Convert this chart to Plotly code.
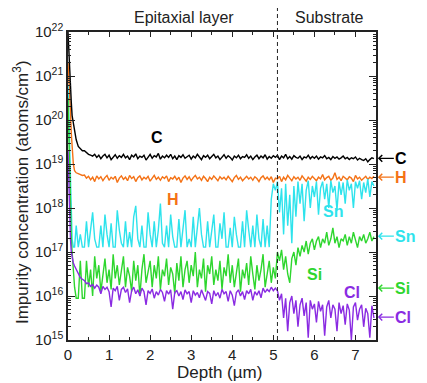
import numpy as np
import plotly.graph_objects as go

# ---- data (log10 of concentration, atoms/cm^3) ----
head_depth = [0, 0.02, 0.04, 0.06, 0.08, 0.1, 0.13, 0.16, 0.2, 0.25, 0.3, 0.35]
epi_start, sub_start, step = 0.4, 5.1, 0.05

c_head = [22.0, 21.5, 21.1, 20.7, 20.4, 20.1, 19.9, 19.7, 19.55, 19.4, 19.35, 19.3]
c_epi = [19.30, 19.25, 19.22, 19.2, 19.18, 19.22, 19.15, 19.2, 19.12, 19.18, 19.22, 19.14, 19.2, 19.1, 19.17, 19.21, 19.13, 19.19, 19.15, 19.22,
         19.14, 19.18, 19.1, 19.2, 19.16, 19.23, 19.12, 19.18, 19.15, 19.2, 19.09, 19.17, 19.22, 19.13, 19.19, 19.16, 19.24, 19.11, 19.18, 19.14,
         19.2, 19.15, 19.22, 19.12, 19.18, 19.1, 19.19, 19.15, 19.21, 19.13, 19.17, 19.2, 19.11, 19.18, 19.14, 19.22, 19.16, 19.1, 19.19, 19.15,
         19.2, 19.12, 19.17, 19.22, 19.14, 19.18, 19.1, 19.16, 19.21, 19.13, 19.19, 19.15, 19.09, 19.18, 19.14, 19.2, 19.12, 19.17, 19.15, 19.21,
         19.13, 19.18, 19.1, 19.16, 19.2, 19.12, 19.18, 19.14, 19.21, 19.11, 19.17, 19.13, 19.19, 19.15]
c_sub = [19.2, 19.1, 19.18, 19.14, 19.22, 19.12, 19.17, 19.11, 19.19, 19.15, 19.13, 19.18, 19.1, 19.16, 19.14, 19.2, 19.12, 19.17, 19.13, 19.18,
         19.11, 19.16, 19.14, 19.19, 19.12, 19.15, 19.1, 19.17, 19.13, 19.16, 19.11, 19.14, 19.18, 19.12, 19.15, 19.1, 19.14, 19.12, 19.16, 19.09,
         19.13, 19.1, 19.08, 19.12, 19.05, 19.1, 19.14, 19.12]

h_head = [21.3, 21.0, 20.6, 20.2, 19.7, 19.3, 19.0, 18.85, 18.8, 18.78, 18.75, 18.74]
h_epi = [18.75, 18.68, 18.72, 18.64, 18.7, 18.6, 18.73, 18.66, 18.71, 18.62,
         18.69, 18.74, 18.63, 18.7, 18.66, 18.72, 18.58, 18.68, 18.73, 18.65,
         18.7, 18.62, 18.74, 18.67, 18.71, 18.6, 18.69, 18.73, 18.64, 18.7,
         18.66, 18.72, 18.61, 18.68, 18.74, 18.65, 18.7, 18.63, 18.71, 18.67,
         18.73, 18.6, 18.69, 18.66, 18.72, 18.64, 18.7, 18.58, 18.68, 18.73,
         18.65, 18.71, 18.62, 18.69, 18.74, 18.66, 18.7, 18.63, 18.72, 18.67,
         18.6, 18.7, 18.65, 18.73, 18.68, 18.62, 18.71, 18.66, 18.7, 18.64,
         18.72, 18.67, 18.6, 18.69, 18.74, 18.65, 18.7, 18.62, 18.68, 18.72,
         18.66, 18.7, 18.63, 18.71, 18.67, 18.6, 18.69, 18.73, 18.65, 18.7,
         18.64, 18.71, 18.58, 18.68]
h_sub = [18.66, 18.72, 18.6, 18.7, 18.64, 18.74, 18.68, 18.62, 18.71, 18.66,
         18.7, 18.63, 18.73, 18.67, 18.61, 18.7, 18.65, 18.72, 18.68, 18.62,
         18.7, 18.66, 18.76, 18.64, 18.69, 18.72, 18.63, 18.68, 18.8, 18.65,
         18.7, 18.62, 18.72, 18.67, 18.64, 18.71, 18.68, 18.6, 18.74, 18.66,
         18.7, 18.63, 18.68, 18.72, 18.65, 18.7, 18.67, 18.72]

sn_head = [20.8, 20.0, 19.2, 18.5, 17.8, 17.3, 17.11, 17.11, 17.6, 17.11, 17.4, 17.11]
sn_epi = [17.11, 17.7, 17.11, 17.5, 17.9, 17.3, 17.11, 17.11, 17.6, 17.11,
          17.85, 17.4, 17.11, 17.65, 17.11, 17.11, 17.95, 17.5, 17.2, 17.11,
          17.7, 17.11, 17.45, 17.11, 17.8, 18.05, 17.3, 17.11, 17.6, 17.11,
          17.11, 17.9, 17.4, 17.11, 17.7, 17.11, 17.5, 18.1, 17.2, 17.11,
          17.6, 17.11, 17.85, 17.35, 17.11, 17.11, 17.75, 17.11, 17.5, 17.95,
          17.11, 17.3, 17.11, 17.8, 17.11, 17.6, 18.0, 17.4, 17.11, 17.11,
          17.7, 17.11, 17.5, 17.85, 17.11, 17.11, 17.65, 17.3, 17.9, 17.11,
          17.11, 17.55, 17.11, 17.8, 17.4, 17.11, 17.11, 17.7, 17.11, 17.95,
          17.5, 17.11, 17.6, 17.11, 17.85, 17.3, 17.11, 17.75, 17.11, 17.6,
          17.11, 18.2, 18.55, 18.4]
sn_sub = [18.6, 17.9, 18.45, 17.4, 18.55, 17.6, 18.3, 17.2, 18.5, 17.8,
          18.6, 18.1, 18.55, 17.7, 18.4, 18.62, 18.0, 18.5, 18.25, 18.6,
          17.85, 18.45, 18.6, 18.2, 18.55, 18.0, 18.62, 18.35, 18.5, 17.95,
          18.6, 18.3, 18.58, 18.1, 18.64, 18.4, 18.55, 18.0, 18.6, 18.45,
          18.62, 18.2, 18.58, 18.35, 18.66, 18.25, 18.6, 18.5]

si_head = [20.5, 19.5, 18.6, 17.9, 17.3, 17.0, 16.6, 16.2, 15.95, 15.95, 16.8, 15.95]
si_epi = [15.95, 16.8, 16.2, 16.6, 16.0, 16.9, 16.4, 16.7, 16.1, 16.5,
          16.85, 16.3, 16.6, 16.15, 16.95, 16.4, 16.7, 16.25, 16.55, 16.9,
          16.2, 16.65, 16.45, 16.1, 16.8, 16.35, 16.7, 16.0, 16.6, 16.95,
          16.3, 16.55, 16.8, 16.2, 16.7, 16.4, 16.9, 16.15, 16.6, 16.45,
          16.85, 16.25, 16.65, 16.5, 16.05, 16.75, 16.35, 16.9, 16.2, 16.6,
          16.8, 16.3, 16.7, 16.45, 17.0, 16.2, 16.6, 16.4, 16.85, 16.1,
          16.7, 16.5, 16.9, 16.25, 16.6, 16.35, 16.8, 16.15, 16.65, 16.45,
          16.95, 16.3, 16.7, 16.2, 16.55, 16.85, 16.1, 16.6, 16.4, 16.75,
          16.25, 16.9, 16.5, 16.15, 16.7, 16.35, 16.6, 16.95, 16.2, 16.55,
          16.8, 16.3, 16.65, 16.4]
si_sub = [17.0, 16.8, 17.05, 16.6, 16.9, 16.5, 16.3, 16.85, 17.0, 16.7,
          17.1, 16.9, 17.15, 17.0, 17.25, 16.95, 17.2, 17.3, 17.05, 17.25,
          17.35, 17.1, 17.3, 17.2, 17.45, 17.15, 17.3, 17.55, 17.2, 17.35,
          17.1, 17.3, 17.25, 17.4, 17.15, 17.35, 17.2, 17.45, 17.3, 17.1,
          17.35, 17.25, 17.4, 17.2, 17.3, 17.45, 17.25, 17.35]

cl_head = [19.3, 18.5, 17.8, 17.3, 17.0, 16.85, 16.75, 16.68, 16.6, 16.5, 16.42, 16.38]
cl_epi = [16.35, 16.28, 16.3, 16.22, 16.26, 16.18, 16.25, 16.2, 16.05, 16.22,
          16.15, 16.2, 16.1, 15.75, 16.18, 16.12, 16.22, 15.9, 16.15, 16.2,
          16.08, 16.16, 15.85, 16.12, 16.2, 16.05, 16.14, 16.0, 16.18, 16.1,
          15.8, 16.12, 16.06, 16.16, 15.95, 16.1, 16.02, 16.15, 16.08, 15.88,
          16.12, 16.04, 16.14, 15.7, 16.08, 16.12, 16.0, 16.1, 15.92, 16.14,
          16.05, 16.1, 15.85, 16.12, 16.02, 16.08, 15.96, 16.14, 16.04, 15.9,
          16.1, 16.06, 15.82, 16.12, 16.0, 16.08, 15.95, 16.15, 16.05, 16.1,
          15.88, 16.12, 16.02, 15.78, 16.08, 16.14, 16.0, 16.1, 15.92, 16.12,
          16.05, 16.15, 15.9, 16.1, 16.02, 16.12, 15.96, 16.18, 16.08, 16.15,
          16.1, 16.2, 16.12, 16.18]
cl_sub = [16.12, 15.9, 16.05, 15.5, 15.95, 15.2, 15.85, 16.0, 15.6, 15.9,
          15.3, 15.8, 15.95, 15.55, 15.85, 15.05, 15.9, 15.7, 15.82, 15.4,
          15.88, 15.65, 15.8, 15.1, 15.75, 15.9, 15.5, 15.8, 15.7, 15.2,
          15.85, 15.6, 15.78, 15.35, 15.82, 15.68, 15.0, 15.75, 15.85, 15.45,
          15.7, 15.8, 15.3, 15.72, 15.6, 15.05, 15.78, 15.5]

species = ["C", "H", "Sn", "Si", "Cl"]
colors = {"C": "#000000", "H": "#F47216", "Sn": "#2EE3EC", "Si": "#2ED62E", "Cl": "#8A2BE2"}
series = {
    "C": (c_head, c_epi, c_sub),
    "H": (h_head, h_epi, h_sub),
    "Sn": (sn_head, sn_epi, sn_sub),
    "Si": (si_head, si_epi, si_sub),
    "Cl": (cl_head, cl_epi, cl_sub),
}
# label positions (depth, log10 conc) inside plot, and right-side arrow levels
inner_labels = {"C": (2.17, 19.6), "H": (2.56, 18.2), "Sn": (6.45, 17.92), "Si": (6.01, 16.48), "Cl": (6.92, 16.09)}
arrow_levels = {"C": 19.13, "H": 18.7, "Sn": 17.36, "Si": 16.18, "Cl": 15.52}
interface_depth = 5.1

FONT = "Liberation Sans, Arial, sans-serif"
TXT = "#222222"

fig = go.Figure()
draw_order = ["H", "Sn", "Si", "Cl", "C"]
for sp in draw_order:
    hd, ep, sb = series[sp]
    x = (list(head_depth)
         + [float(v) for v in np.round(epi_start + step * np.arange(len(ep)), 3)]
         + [float(v) for v in np.round(sub_start + step * np.arange(len(sb)), 3)])
    y = [10.0 ** v for v in (hd + ep + sb)]
    fig.add_trace(go.Scatter(x=x, y=y, mode="lines", name=sp,
                             line=dict(color=colors[sp], width=1.4), showlegend=False))

annotations = []
for sp in species:
    lx, ly = inner_labels[sp]
    annotations.append(dict(x=lx, y=ly, xref="x", yref="y", text="<b>%s</b>" % sp,
                            xanchor="center", yanchor="middle",
                            showarrow=False, font=dict(size=16, color=colors[sp], family=FONT)))
    annotations.append(dict(x=1.006, y=arrow_levels[sp], xref="paper", yref="y",
                            text="<b>%s</b>" % sp, showarrow=True, arrowhead=4, arrowsize=1,
                            arrowwidth=1.3, arrowcolor=colors[sp], ax=16, ay=0,
                            xanchor="left", yanchor="middle", borderpad=0,
                            font=dict(size=16, color=colors[sp], family=FONT)))

annotations += [
    dict(x=0.377, y=1.048, xref="paper", yref="paper", text="Epitaxial layer",
         xanchor="center", yanchor="middle",
         showarrow=False, font=dict(size=16, color=TXT, family=FONT)),
    dict(x=0.85, y=1.048, xref="paper", yref="paper", text="Substrate",
         xanchor="center", yanchor="middle",
         showarrow=False, font=dict(size=16, color=TXT, family=FONT)),
    dict(x=-0.153, y=0.48, xref="paper", yref="paper", textangle=-90,
         xanchor="center", yanchor="middle",
         text="Impurity concentration (atoms/cm<sup>3</sup>)", showarrow=False,
         font=dict(size=17, color=TXT, family=FONT)),
    dict(x=0.492, y=-0.107, xref="paper", yref="paper", text="Depth (µm)",
         xanchor="center", yanchor="middle",
         showarrow=False, font=dict(size=17, color=TXT, family=FONT)),
]

major = [10.0 ** e for e in range(15, 23)]
minor_vals = [k * 10.0 ** e for e in range(15, 22) for k in range(2, 10)]

# page body has an 8px default margin, so the figure is sized to fit inside it
fig.update_layout(
    width=419, height=375,
    margin=dict(l=60, r=51, t=24, b=43, autoexpand=False),
    paper_bgcolor="white", plot_bgcolor="white",
    font=dict(family=FONT, size=15, color=TXT),
    annotations=annotations,
    shapes=[dict(type="line", xref="x", yref="paper", x0=interface_depth, x1=interface_depth,
                 y0=0, y1=1.09, line=dict(color=TXT, width=1, dash="4px,3px"))],
)
fig.update_xaxes(range=[0, 7.5], dtick=1, tick0=0, ticks="inside", ticklen=5,
                 tickcolor=TXT, showline=True, linecolor=TXT, linewidth=1.5,
                 mirror="allticks", showgrid=False, zeroline=False, automargin=False,
                 minor=dict(dtick=0.5, tick0=0, ticks="inside", ticklen=3, tickcolor=TXT),
                 tickfont=dict(size=15))
fig.update_yaxes(type="log", range=[15, 22], tickvals=major,
                 ticktext=["10<sup>%d</sup>" % e for e in range(15, 23)],
                 ticks="inside", ticklen=7, tickcolor=TXT, showline=True,
                 linecolor=TXT, linewidth=1.5, mirror="allticks", showgrid=False,
                 automargin=False,
                 minor=dict(tickvals=minor_vals, ticks="inside", ticklen=3, tickcolor=TXT),
                 tickfont=dict(size=15))

fig.write_html("out.html")
